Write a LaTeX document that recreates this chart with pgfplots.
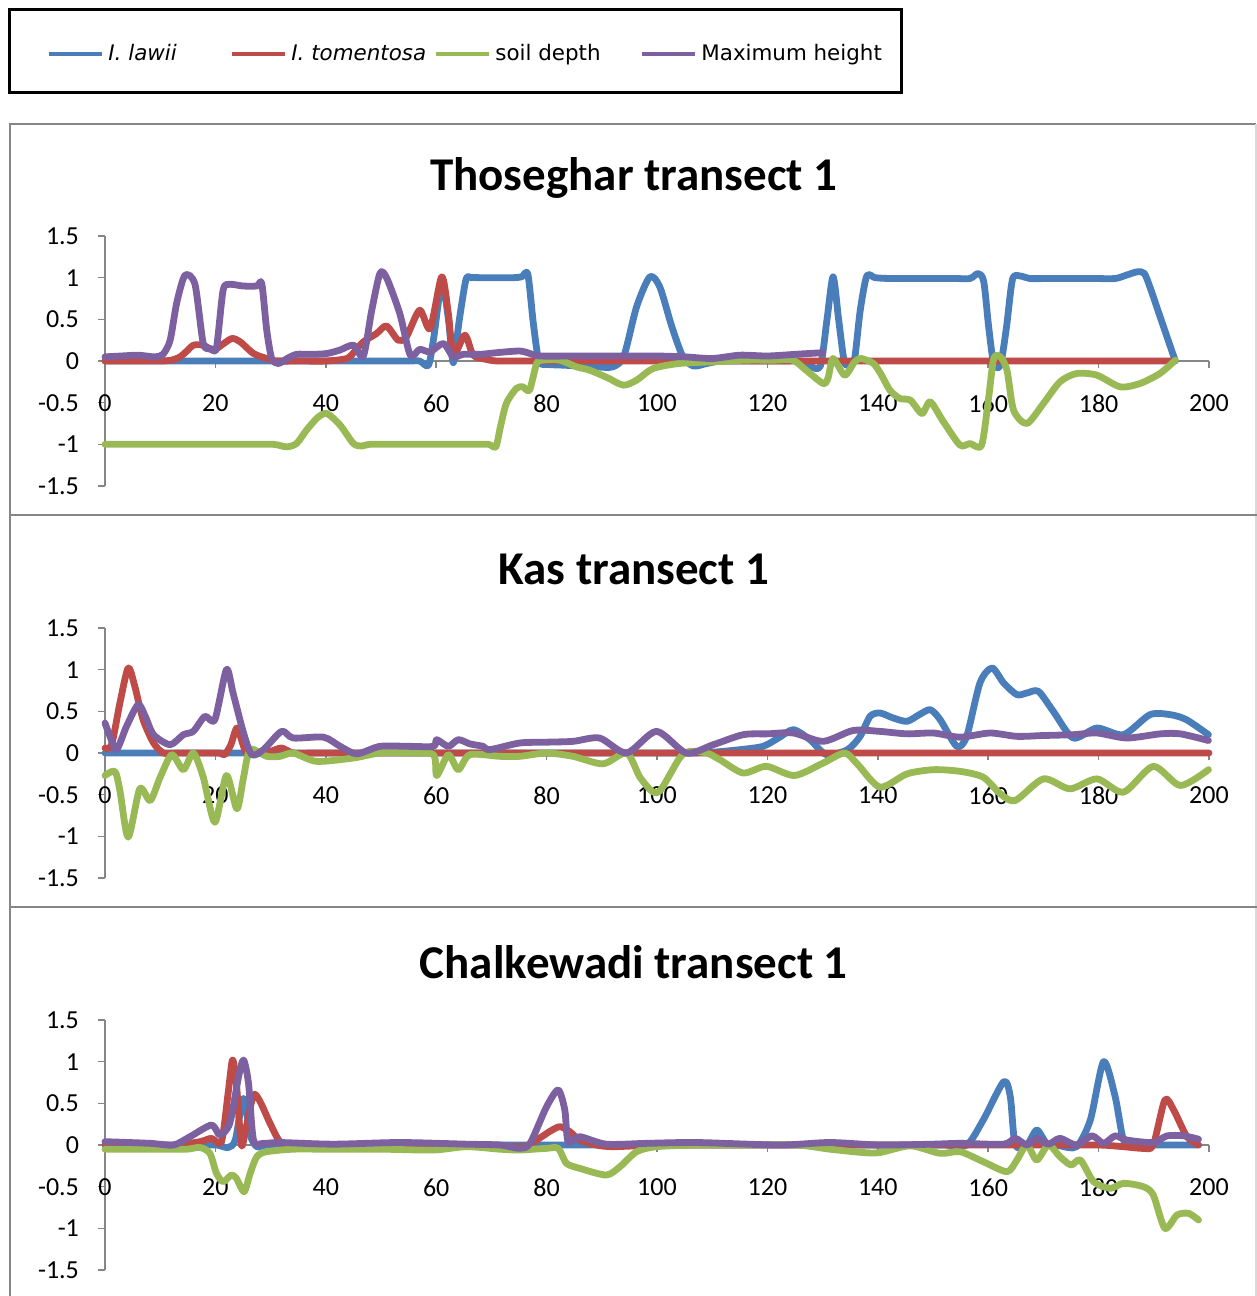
\documentclass[border=0pt]{standalone}
\usepackage{fontspec}
\setmainfont{Carlito}
\newfontfamily\legfont{DejaVu Sans}
\usepackage{pgfplots}
\pgfplotsset{compat=1.18}

\definecolor{cLawii}{HTML}{4A7EBB}
\definecolor{cTom}{HTML}{BE4B48}
\definecolor{cSoil}{HTML}{98B954}
\definecolor{cMax}{HTML}{7D60A0}
\definecolor{axgray}{HTML}{868686}

\pgfplotsset{
  ser/.style={line width=3.4pt, smooth, tension=0.45, line join=round, line cap=round, mark=none},
  panel/.style={
    scale only axis, width=552pt, height=125pt,
    xmin=0, xmax=200, ymin=-1.5, ymax=1.5,
    axis x line*=middle, axis y line*=left,
    axis line style={axgray, line width=0.8pt},
    xtick={20,40,...,200},
    xticklabels={20,40,60,80,100,120,140,160,180,200},
    extra x ticks={0.001}, extra x tick labels={0},
    extra x tick style={tick align=outside, major tick length=3.5pt},
    ytick={-1.5,-1,-0.5,0,0.5,1,1.5},
    yticklabels={-1.5,-1,-0.5,0,0.5,1,1.5},
    tick align=outside, major tick length=3.5pt,
    tick style={axgray, line width=0.8pt},
    ticklabel style={font=\fontsize{13}{15}\selectfont},
    xticklabel style={yshift=-10pt},
    yticklabel style={xshift=-6pt},
    title style={font=\fontsize{23.5}{28}\selectfont\bfseries, at={(0.479,1.185)}, anchor=center},
    clip=false,
  },
}

\begin{document}
\begin{tikzpicture}
\path[use as bounding box] (0,0) rectangle (628.5pt,-648pt);

\begin{scope}[x=0.5pt,y=-0.5pt]
  \draw[black, line width=1.5pt] (9.5,9.5) rectangle (901.5,92);
  \draw[axgray, line width=1pt] (10,1296) -- (10,124) -- (1256,124);
  \draw[gray!30, line width=1pt] (1256,124) -- (1256,1296);
  \draw[axgray, line width=1pt] (10,515) -- (1257,515);
  \draw[axgray, line width=1pt] (10,907) -- (1257,907);
\end{scope}

% Thoseghar transect 1
\begin{axis}[panel, at={(52.5pt,-243pt)}, anchor=south west,
  title={Thoseghar transect 1},
  legend columns=4,
  legend style={draw=none, fill=none, inner sep=0pt, at={(-0.0525,1.728)}, anchor=west,
    font=\legfont\fontsize{10.7}{13}\selectfont,
    /tikz/every even column/.append style={column sep=0pt}},
  legend image code/.code={\draw[#1, line width=2pt, line cap=butt] (0pt,0pt) -- (26.5pt,0pt);},
]
\addplot[ser, cLawii] coordinates {
(0,0) (10,0) (20,0) (30,0) (40,0) (50,0) (55,0) (57,0) (58.6,-0.05) (59.6,0.3)
(60.5,0.75) (61.3,0.9) (62.3,0.45) (63.1,-0.02) (64.2,0.5) (65.4,0.98) (66.3,1.0)
(68,1.0) (71,1.0) (74,1.0) (75.5,1.01) (76.6,1.04) (77.6,0.45) (78.6,0.0) (80,-0.04)
(83,-0.05) (86,-0.06) (89,-0.07) (92,-0.07) (94,0.06) (96.3,0.65) (98.7,1.01)
(100.5,0.89) (102.7,0.41) (104.7,0.05) (106.6,-0.06) (109,-0.03) (111.5,0) (115,0)
(119,0) (123,0) (126,0) (127.7,-0.06) (129.6,-0.06) (130.8,0.5) (131.9,1.01)
(132.9,0.5) (133.9,0.0) (134.8,-0.05) (135.8,0.03) (136.8,0.6) (138,1.02) (139.5,1.0)
(142,0.99) (146,0.99) (150,0.99) (154,0.99) (156.7,0.99) (158.2,1.05) (159.2,0.95)
(160.1,0.4) (161,-0.03) (162.2,-0.05) (163.3,0.4) (164.4,0.98) (165.8,1.02)
(167.5,0.99) (171,0.99) (175,0.99) (179,0.99) (183,0.99) (185,1.03) (187,1.07)
(188.3,1.05) (189.5,0.85) (191.3,0.5) (193.9,0.0)
};
\addlegendentry{\makebox[59pt][l]{\textit{I. lawii}}}
\addplot[ser, cTom] coordinates {
(0,0) (5,0) (10,0) (12,0.01) (13.6,0.05) (15,0.13) (16,0.19) (17.8,0.19) (19.6,0.13)
(21.3,0.2) (23,0.27) (24.5,0.23) (26.9,0.09) (29.3,0.03) (31,0) (35,0) (40,0)
(43.8,0.03) (45.3,0.12) (46.8,0.23) (49.2,0.33) (51,0.42) (53.1,0.25) (54.6,0.29)
(57,0.61) (58.9,0.39) (61,1.01) (62.2,0.57) (63.1,0.07) (65.2,0.31) (66.7,0.07)
(69,0.02) (71,0) (75,0) (80,0) (90,0) (100,0) (110,0) (120,0) (130,0) (140,0)
(150,0) (160,0) (170,0) (180,0) (190,0) (193.8,0)
};
\addlegendentry{\makebox[69.5pt][l]{\textit{I. tomentosa}}}
\addplot[ser, cSoil] coordinates {
(0,-1) (5,-1) (10,-1) (15,-1) (20,-1) (25,-1) (30.5,-1) (32.9,-1.03) (34.7,-0.99)
(36.5,-0.83) (38.5,-0.68) (40.2,-0.63) (42.6,-0.77) (45,-0.99) (46.5,-1.02) (48,-1)
(52,-1) (56,-1) (60,-1) (64,-1) (67,-1) (69.5,-1) (70.8,-1.03) (71.6,-0.8)
(72.7,-0.51) (74.5,-0.33) (75.7,-0.31) (76.9,-0.35) (78.2,-0.03) (79.3,0.01)
(82.4,0.01) (85.4,-0.07) (87.8,-0.11) (91,-0.2) (93.9,-0.29) (96.3,-0.23)
(99.3,-0.09) (104,-0.03) (110,-0.01) (116,0.01) (121,0.01) (124.6,0.01) (127,-0.11)
(130.1,-0.27) (131,-0.2) (131.9,0.03) (134,-0.17) (135.8,-0.01) (137,0.03)
(139.2,-0.03) (140.5,-0.15) (142.2,-0.35) (144,-0.45) (145.9,-0.47) (148,-0.63)
(149.5,-0.49) (151.9,-0.73) (154.9,-1.01) (156.7,-0.99) (158.8,-1.01) (160.1,-0.43)
(161,0.03) (162.2,0.05) (163.4,-0.11) (164.6,-0.59) (167,-0.75) (170,-0.51)
(173,-0.25) (176,-0.15) (179.7,-0.17) (183.9,-0.31) (187.5,-0.27) (191.1,-0.15)
(193.9,0.01)
};
\addlegendentry{\makebox[70.5pt][l]{soil depth}}
\addplot[ser, cMax] coordinates {
(0,0.05) (3,0.06) (6,0.07) (9,0.05) (10.5,0.08) (11.8,0.25) (13,0.7) (14.5,1.03)
(16.3,0.92) (17.8,0.21) (19.2,0.15) (20.2,0.16) (21.4,0.85) (22.6,0.92) (25,0.9)
(27.5,0.9) (28.4,0.93) (29.3,0.37) (30.2,0.03) (31.4,-0.03) (33,0.03) (34.7,0.08)
(37.5,0.08) (40.2,0.09) (42.5,0.13) (45,0.19) (46.8,0.06) (48.3,0.6) (49.8,1.05)
(51,1.0) (53.4,0.57) (55.3,0.07) (57,0.14) (58.9,0.11) (61.3,0.21) (63.1,0.05)
(64.9,0.08) (68,0.08) (71,0.1) (75.1,0.12) (77,0.09) (78.8,0.06) (85,0.06) (90,0.06)
(95,0.06) (100,0.06) (105,0.05) (110,0.03) (115,0.07) (120,0.06) (125,0.08) (130,0.1)
};
\addlegendentry{Maximum height}
\end{axis}

% Kas transect 1
\begin{axis}[panel, at={(52.5pt,-439pt)}, anchor=south west, title={Kas transect 1}]
\addplot[ser, cLawii] coordinates {
(0,0) (10,0) (20,0) (30,0) (40,0) (50,0) (60,0) (70,0) (80,0) (90,0) (100,0) (106,0)
(110.2,0.01) (115,0.04) (119.2,0.08) (122,0.18) (124.7,0.28) (127.7,0.16)
(130.7,-0.02) (134.5,0.04) (136.8,0.2) (138.6,0.44) (140.4,0.48) (142.8,0.42)
(145.3,0.38) (147.5,0.46) (149.5,0.52) (151.3,0.4) (154.3,0.08) (156.1,0.2)
(158.5,0.84) (160.7,1.02) (162.8,0.84) (165.2,0.7) (167,0.72) (169.1,0.74)
(171.8,0.5) (175.4,0.18) (179.7,0.3) (184.5,0.22) (189.3,0.46) (193,0.46)
(195.9,0.4) (199.9,0.22)
};
\addplot[ser, cTom] coordinates {
(0,0.06) (1.2,0.1) (2.7,0.6) (4.2,1.02) (5.4,0.8) (6.9,0.4) (8.8,0.12) (10.6,0)
(13,0) (16,0) (19,0) (20.8,0) (21.7,-0.02) (22.8,0.1) (23.9,0.3) (25,0.1) (25.7,0)
(28,0) (30,0.02) (32,0.06) (34.1,0) (38,0) (45,0) (55,0) (65,0) (75,0) (85,0) (95,0)
(105,0) (115,0) (125,0) (135,0) (145,0) (155,0) (165,0) (175,0) (185,0) (195,0) (200,0)
};
\addplot[ser, cSoil] coordinates {
(0,-0.27) (1.8,-0.22) (2.7,-0.45) (4.2,-1.01) (6.3,-0.43) (8.2,-0.57) (10,-0.29)
(12.1,-0.02) (14.2,-0.2) (16,0) (17.8,-0.29) (19.9,-0.83) (22,-0.27) (23.9,-0.67)
(25.1,-0.29) (26.3,0.04) (29.3,-0.04) (31.7,-0.04) (34.1,0) (38.3,-0.1) (45,-0.06)
(49.8,0) (55,0) (59.5,-0.02) (60.1,-0.27) (62.2,-0.02) (64,-0.2) (66.1,-0.02)
(71.6,-0.04) (75.1,-0.04) (80,0) (84.8,-0.04) (90.2,-0.13) (94.5,0) (96.9,-0.29)
(99.3,-0.47) (100.8,-0.43) (104.1,-0.06) (105.9,0.02) (109,0) (111.4,-0.08)
(115.6,-0.24) (119.8,-0.16) (124.9,-0.27) (130.1,-0.12) (134,0) (136.4,-0.14)
(140.4,-0.41) (145.3,-0.25) (150.1,-0.2) (154.9,-0.22) (159.1,-0.29) (162.2,-0.49)
(164.9,-0.57) (170,-0.31) (174.8,-0.43) (179.7,-0.31) (184.5,-0.47) (189.9,-0.16)
(194.8,-0.39) (199.9,-0.2)
};
\addplot[ser, cMax] coordinates {
(0,0.36) (0.9,0.2) (2.1,0.04) (3.9,0.32) (6,0.58) (7.3,0.44) (8.8,0.22) (11.8,0.1)
(14.2,0.22) (16,0.26) (18.1,0.44) (19.9,0.4) (22,1.0) (23.2,0.72) (25.1,0.24)
(26.6,-0.02) (28.7,0.04) (32,0.26) (34.1,0.18) (39.6,0.19) (42.6,0.08) (45.6,-0.01)
(49.8,0.08) (55,0.08) (59.5,0.08) (60.1,0.16) (62.2,0.08) (64,0.16) (66.1,0.11)
(68.5,0.08) (69.7,0.04) (75.1,0.12) (80,0.13) (84.8,0.14) (89.6,0.18) (94.5,0)
(99.9,0.26) (105.3,0) (110.2,0.1) (115.6,0.22) (120,0.23) (124.7,0.24) (130.1,0.14)
(135.5,0.27) (140.3,0.26) (145.3,0.23) (150.1,0.24) (154.9,0.19) (160.3,0.24)
(165.2,0.2) (170,0.21) (175.4,0.22) (179.7,0.24) (185.1,0.18) (191.2,0.23)
(194.8,0.23) (199.9,0.15)
};
\end{axis}

% Chalkewadi transect 1
\begin{axis}[panel, at={(52.5pt,-635pt)}, anchor=south west, title={Chalkewadi transect 1}]
\addplot[ser, cLawii] coordinates {
(0,0) (10,0) (17,0) (20.2,0) (22.3,-0.03) (23.6,0.06) (25.1,0.56) (26.3,0.12)
(27.5,-0.02) (29.3,0) (35,0) (45,0) (55,0) (65,0) (75,0) (85,0) (95,0) (105,0)
(115,0) (125,0) (135,0) (145,0) (152,0) (156.1,0) (159.1,0.3) (162.8,0.76)
(164,0.58) (164.9,0) (167,0) (168.8,0.18) (170.6,0.02) (173,-0.01) (176,-0.02)
(178.5,0.3) (180.9,1.0) (183,0.58) (184.5,0.06) (186.3,-0.01) (190,0) (194,0)
(198.1,0)
};
\addplot[ser, cTom] coordinates {
(0,0) (5,0) (10,0) (13,0) (17.2,0.04) (19.3,0.08) (21.1,0.04) (22.3,0.62)
(23.1,1.02) (23.8,0.74) (24.7,0) (25.6,0.22) (26.9,0.6) (28.1,0.52) (29.9,0.26)
(31.7,0.04) (34.1,-0.03) (40,0) (50,0) (60,0) (67.9,0) (75.7,-0.02) (78.2,0.06)
(80.5,0.16) (82.4,0.22) (84.2,0.16) (86,0.06) (89,0) (92.1,-0.02) (100,0) (110,0)
(120,0) (130,0) (140,0) (150,0) (160,0) (170,0) (180,0) (184.5,-0.02) (188.1,-0.04)
(189.9,0) (192,0.54) (193.6,0.42) (196,0.1) (198.1,0)
};
\addplot[ser, cSoil] coordinates {
(0,-0.05) (5,-0.05) (10,-0.05) (14.8,-0.05) (17.2,-0.03) (19,-0.1) (20.2,-0.34)
(21.4,-0.44) (22.9,-0.36) (23.8,-0.4) (25.2,-0.56) (26.3,-0.34) (27.5,-0.14)
(29.3,-0.08) (34.1,-0.05) (40,-0.05) (50,-0.05) (59.5,-0.06) (65.5,-0.02)
(71.5,-0.05) (75.1,-0.06) (80,-0.04) (82.1,-0.04) (83.6,-0.22) (86,-0.28)
(90.8,-0.36) (93.3,-0.26) (96.3,-0.08) (99.9,-0.02) (107.2,0) (115,0) (125.3,0)
(131.3,-0.05) (137.3,-0.09) (140.4,-0.09) (145.9,-0.01) (151.3,-0.1) (154.9,-0.08)
(159.1,-0.2) (163.4,-0.32) (165.2,-0.18) (167,0) (168.8,-0.18) (170.9,0)
(173,-0.14) (175,-0.24) (176.7,-0.18) (179.1,-0.44) (182.1,-0.52) (184.5,-0.46)
(188.1,-0.5) (189.9,-0.6) (192,-1.0) (194.2,-0.84) (196.3,-0.82) (198.1,-0.9)
};
\addplot[ser, cMax] coordinates {
(0,0.04) (8.2,0.02) (12.4,0) (15.4,0.1) (19.3,0.24) (20.8,0.12) (22.6,0.26)
(24.2,0.82) (25.1,1.02) (26,0.74) (26.9,0.06) (28.7,0.02) (31.7,0.03) (41.4,0.01)
(53.4,0.03) (65.5,0.01) (71.6,0) (75.1,-0.04) (77,0.02) (80,0.46) (82.1,0.66)
(83.3,0.42) (83.9,0.04) (86,0.1) (90.8,0.01) (98.1,0.02) (107.2,0.03) (122.2,0)
(131.3,0.03) (140.3,0) (150,0.01) (155,0.02) (162.8,0.01) (164.9,0.08) (167,0)
(168.8,0.08) (170.9,0.01) (173,0.08) (176,0) (178.8,0.11) (180.9,0.02) (183,0.11)
(185.1,0.06) (189.9,0.03) (192.4,0.11) (195.4,0.11) (198.1,0.07)
};
\end{axis}
\end{tikzpicture}
\end{document}
